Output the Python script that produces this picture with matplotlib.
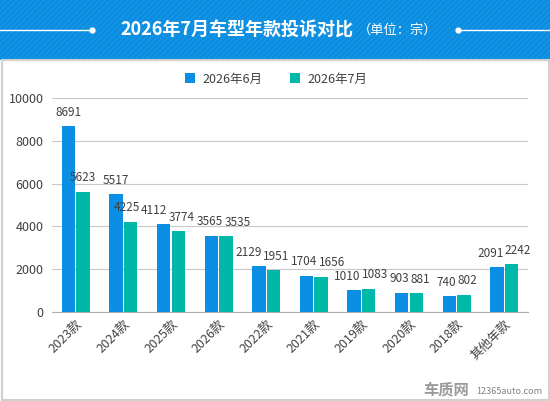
import numpy as np
import matplotlib.pyplot as plt
from matplotlib.patches import Rectangle

plt.rcParams['font.family'] = ['Noto Sans CJK SC', 'DejaVu Sans']
plt.rcParams['hatch.linewidth'] = 1.0

# data
categories = ['2023款', '2024款', '2025款', '2026款', '2022款', '2021款',
              '2019款', '2020款', '2018款', '其他年款']
june = [8691, 5517, 4112, 3565, 2129, 1704, 1010, 903, 740, 2091]
july = [5623, 4225, 3774, 3535, 1951, 1656, 1083, 881, 802, 2242]
series_names = ['2026年6月', '2026年7月']
yticks = [0, 2000, 4000, 6000, 8000, 10000]

blue = '#0b8fe4'
teal = '#00b8a9'
txt = '#404040'

W, H = 550, 401
fig = plt.figure(figsize=(W / 100, H / 100), dpi=100)

# header band
fig.patches.append(Rectangle((0, 1 - 60 / H), 1, 60 / H, transform=fig.transFigure,
                             facecolor='#0a8de0', edgecolor='#1896e6', hatch='//////',
                             lw=0, zorder=0))
# grey frame around the white panel
fig.patches.append(Rectangle((1.5 / W, 1.5 / H), 1 - 3 / W, 1 - 61.5 / H, transform=fig.transFigure,
                             fill=False, edgecolor='#d0d0d0', lw=1.5, zorder=0))

ty = 1 - 30 / H
fig.text(237 / W, ty, '2026年7月车型年款投诉对比', color='white', fontsize=13,
         fontweight='bold', ha='center', va='center')
fig.text(398 / W, ty, '（单位：宗）', color='white', fontsize=9.5, ha='center', va='center')
fig.add_artist(plt.Line2D([0, 92 / W], [ty, ty], color='white', lw=1, transform=fig.transFigure))
fig.add_artist(plt.Line2D([458 / W, 1], [ty, ty], color='white', lw=1, transform=fig.transFigure))
fig.add_artist(plt.Line2D([92 / W, 458 / W], [ty, ty], ls='none', marker='o', ms=3.5,
                          color='white', transform=fig.transFigure))

ax = fig.add_axes([52 / W, (H - 312) / H, 476 / W, 214 / H])
x = np.arange(len(categories))
w = 0.284
g = 0.011
b1 = ax.bar(x - w / 2 - g, june, w, color=blue, label=series_names[0], zorder=3)
b2 = ax.bar(x + w / 2 + g, july, w, color=teal, label=series_names[1], zorder=3)

labels = []
for bars, vals in ((b1, june), (b2, july)):
    for r, v in zip(bars, vals):
        t = ax.annotate(str(v), (r.get_x() + r.get_width() / 2, v), xytext=(0, 10),
                        textcoords='offset points', ha='center', va='center',
                        fontsize=8.5, color=txt, zorder=4)
        labels.append(t)

ax.set_xlim(-0.5, len(categories) - 0.5)
ax.set_ylim(0, 10000)
ax.set_yticks(yticks)
ax.set_yticklabels([str(t) for t in yticks], fontsize=9, color=txt)
ax.set_xticks(x)
ax.set_xticklabels(categories, rotation=45, ha='right', rotation_mode='anchor',
                   fontsize=9, color=txt)
ax.tick_params(axis='y', length=0, pad=6)
ax.tick_params(axis='x', length=0, pad=4)
ax.grid(axis='y', color='#c8c8c8', lw=0.8, zorder=0)
for s in ('top', 'right', 'left'):
    ax.spines[s].set_visible(False)
ax.spines['bottom'].set_color('#b0b0b0')

ax.legend(loc='center', bbox_to_anchor=((276 - 52) / 476, (312 - 79) / 214), ncol=2,
          frameon=False, fontsize=9, handlelength=0.8, handleheight=0.8, columnspacing=2.2,
          handletextpad=0.6, labelcolor=txt)

# push overlapping value labels apart sideways (like the original chart does)
fig.canvas.draw()
rend = fig.canvas.get_renderer()
boxes = [t.get_window_extent(rend) for t in labels]
cx = np.array([(b.x0 + b.x1) / 2 for b in boxes])
hw = np.array([b.width / 2 for b in boxes])
y0 = np.array([b.y0 for b in boxes])
y1 = np.array([b.y1 for b in boxes])
shift = np.zeros(len(labels))
gap = 1.5
for _ in range(200):
    moved = False
    for i in range(len(labels)):
        for j in range(len(labels)):
            if i == j or cx[i] + shift[i] > cx[j] + shift[j]:
                continue
            if y1[i] - 2 < y0[j] or y1[j] - 2 < y0[i]:
                continue
            ov = (cx[i] + shift[i] + hw[i] + gap) - (cx[j] + shift[j] - hw[j])
            if ov > 0.01:
                shift[i] -= ov / 2
                shift[j] += ov / 2
                moved = True
    if not moved:
        break
for t, s in zip(labels, shift):
    t.xyann = (s * 72 / fig.dpi, 10)

fig.text(446 / W, 12 / H, '车质网', fontsize=11, color='#9a9a9a', fontweight='bold',
         ha='center', va='center')
fig.text(509 / W, 10 / H, '12365auto.com', fontsize=6.5, color='#808080',
         ha='center', va='center')

fig.savefig('out.png', dpi=100)
